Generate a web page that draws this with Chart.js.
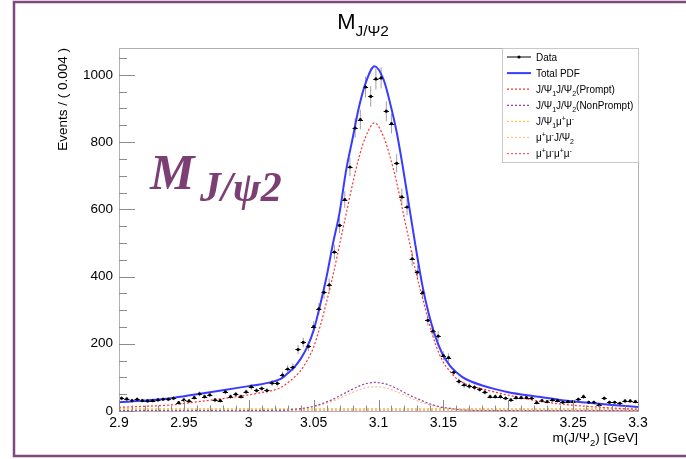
<!DOCTYPE html>
<html>
<head>
<meta charset="utf-8">
<script src="https://cdn.jsdelivr.net/npm/chart.js@4.4.1/dist/chart.umd.min.js"></script>
<style>
  html, body { margin: 0; padding: 0; background: #fff; }
  canvas { display: block; }
</style>
</head>
<body>
<canvas id="massChart" width="686" height="459"></canvas>
<script>
// binning of the data histogram
const binLow = 2.9;
const binWidth = 0.004;
const eventCounts = [
  38, 36, 31, 35, 31, 30, 31, 33, 35, 35, 38, 25, 33, 30, 40, 51, 43, 48, 33, 31,
  57, 43, 50, 43, 57, 72, 61, 67, 61, 83, 82, 107, 125, 130, 183, 204, 192, 251, 304, 353,
  375, 473, 552, 629, 726, 842, 867, 964, 936, 988, 991, 892, 855, 737, 637, 607, 453, 413, 352, 270,
  238, 223, 165, 159, 115, 88, 78, 74, 70, 64, 56, 43, 43, 43, 38, 33, 40, 40, 40, 38,
  25, 31, 28, 33, 31, 26, 28, 28, 35, 43, 26, 26, 18, 38, 26, 26, 23, 30, 30, 28
];

// fit curves
const curveX = [2.9, 2.92, 2.94, 2.96, 2.98, 3.0, 3.01, 3.02, 3.025, 3.03, 3.035, 3.04, 3.045, 3.05, 3.055,
  3.06, 3.065, 3.07, 3.075, 3.08, 3.085, 3.09, 3.097, 3.104, 3.109, 3.114, 3.119, 3.124, 3.129, 3.134,
  3.139, 3.144, 3.149, 3.155, 3.16, 3.165, 3.17, 3.18, 3.19, 3.2, 3.22, 3.24, 3.26, 3.28, 3.3];
const totalPdf = [26, 31, 38, 50, 62, 74, 80, 89, 96, 112, 130, 155, 190, 240, 315,
  400, 500, 590, 715, 810, 905, 975, 1026, 985, 915, 830, 720, 600, 480, 370,
  285, 220, 172, 135, 115, 100, 90, 76, 65, 56, 44, 33, 25, 18, 12];
const promptPdf = [11, 14, 18, 27, 37, 48, 55, 63, 70, 84, 100, 120, 150, 190, 252,
  325, 405, 495, 585, 675, 755, 815, 857, 815, 755, 680, 590, 500, 410, 335,
  262, 198, 152, 118, 97, 85, 76, 66, 56, 47, 32, 21, 14, 9, 5];
const nonPromptPdf = [1, 1, 1, 1, 1, 1, 1, 2, 2, 3, 5, 7, 10, 14, 20,
  27, 35, 45, 55, 65, 74, 81, 85, 82, 76, 67, 57, 47, 38, 30,
  22, 16, 11, 8, 5, 3, 2, 1, 1, 1, 1, 1, 1, 1, 1];
const mumuJpsiPdf = [2, 2, 2, 2, 2, 2, 2, 2, 2, 3, 4, 6, 9, 12, 17,
  23, 30, 38, 47, 55, 63, 69, 72, 70, 65, 57, 49, 40, 32, 25,
  19, 14, 10, 7, 5, 3, 2, 2, 2, 2, 2, 2, 2, 2, 2];
const flatX = [2.9, 3.3];
const jpsiMumuPdf = [7, 7];
const fourMuPdf = [3, 3];

const FONT = '"Liberation Sans", Arial, sans-serif';

function pairs(xs, ys) {
  return xs.map((x, i) => ({ x: x, y: ys[i] }));
}

// draws text with _{..} and ^{..} parts
function richParts(str) {
  const parts = [];
  const re = /([_^])\{([^}]*)\}/g;
  let last = 0, m;
  while ((m = re.exec(str)) !== null) {
    if (m.index > last) parts.push({ t: str.slice(last, m.index), mode: 'n' });
    parts.push({ t: m[2], mode: m[1] == '_' ? 'sub' : 'sup' });
    last = re.lastIndex;
  }
  if (last < str.length) parts.push({ t: str.slice(last), mode: 'n' });
  return parts;
}

function drawRich(ctx, str, x, y, size, align, color, font) {
  font = font || FONT;
  const parts = richParts(str);
  let total = 0;
  parts.forEach(p => {
    p.size = p.mode == 'n' ? size : size * 0.7;
    ctx.font = p.size + 'px ' + font;
    p.w = ctx.measureText(p.t).width;
    total += p.w;
  });
  let cx = x;
  if (align == 'center') cx = x - total / 2;
  if (align == 'right') cx = x - total;
  ctx.fillStyle = color;
  ctx.textAlign = 'left';
  ctx.textBaseline = 'alphabetic';
  parts.forEach(p => {
    ctx.font = p.size + 'px ' + font;
    let dy = 0;
    if (p.mode == 'sub') dy = size * 0.3;
    if (p.mode == 'sup') dy = -size * 0.4;
    ctx.fillText(p.t, cx, y + dy);
    cx += p.w;
  });
  return total;
}

const binCenters = eventCounts.map((n, i) => binLow + binWidth * (i + 0.5));

const decorPlugin = {
  id: 'decor',
  beforeDraw(chart) {
    const ctx = chart.ctx;
    ctx.save();
    ctx.fillStyle = '#fff';
    ctx.fillRect(0, 0, chart.width, chart.height);
    ctx.restore();
  },
  beforeDatasetsDraw(chart) {
    // error bars of the data points
    const ctx = chart.ctx;
    const xs = chart.scales.x, ys = chart.scales.y;
    const ds = chart.data.datasets[0];
    ctx.save();
    ctx.lineWidth = 1;
    ds.data.forEach(p => {
      const px = xs.getPixelForValue(p.x);
      const err = Math.sqrt(p.y);
      ctx.strokeStyle = '#a0a0a0';
      ctx.beginPath();
      ctx.moveTo(px, ys.getPixelForValue(p.y + err));
      ctx.lineTo(px, ys.getPixelForValue(Math.max(p.y - err, 0)));
      ctx.stroke();
      const py = Math.round(ys.getPixelForValue(p.y)) + 0.5;
      ctx.strokeStyle = '#000';
      ctx.beginPath();
      ctx.moveTo(xs.getPixelForValue(p.x - binWidth / 2), py);
      ctx.lineTo(xs.getPixelForValue(p.x + binWidth / 2), py);
      ctx.stroke();
    });
    ctx.restore();
  },
  afterDraw(chart) {
    const ctx = chart.ctx;
    const a = chart.chartArea;
    const xs = chart.scales.x, ys = chart.scales.y;
    ctx.save();

    // frame
    ctx.strokeStyle = '#b0b0b0';
    ctx.lineWidth = 1;
    ctx.strokeRect(a.left + 0.5, a.top + 0.5, a.right - a.left, a.bottom - a.top);

    // ticks pointing inwards
    ctx.strokeStyle = '#8c8c8c';
    ctx.beginPath();
    for (let k = 0; k <= 40; k++) {
      const px = Math.round(xs.getPixelForValue(2.9 + k * 0.01)) + 0.5;
      const len = k % 5 == 0 ? 11 : 5.5;
      ctx.moveTo(px, a.bottom);
      ctx.lineTo(px, a.bottom - len);
    }
    for (let k = 0; k <= 21; k++) {
      const py = Math.round(ys.getPixelForValue(k * 50)) + 0.5;
      const len = k % 4 == 0 ? 16 : 8;
      ctx.moveTo(a.left, py);
      ctx.lineTo(a.left + len, py);
    }
    ctx.stroke();

    // titles
    drawRich(ctx, 'M_{J/Ψ2}', 363, 29, 22, 'center', '#000');
    drawRich(ctx, 'm(J/Ψ_{2}) [GeV]', a.right, 442, 13.5, 'right', '#000');
    ctx.save();
    ctx.translate(67, a.top);
    ctx.rotate(-Math.PI / 2);
    drawRich(ctx, 'Events / ( 0.004 )', 0, 0, 13.5, 'right', '#000');
    ctx.restore();

    // legend
    const lx = 502, ly = 48, lw = a.right - lx, lh = 114;
    ctx.fillStyle = '#fff';
    ctx.fillRect(lx, ly, lw, lh);
    ctx.strokeStyle = '#c8c8c8';
    ctx.strokeRect(lx + 0.5, ly + 0.5, lw, lh);
    chart.data.datasets.forEach((ds, i) => {
      const ey = 57 + i * 16.1;
      ctx.save();
      ctx.beginPath();
      ctx.moveTo(507, ey);
      ctx.lineTo(531, ey);
      ctx.lineWidth = ds.type == 'scatter' ? 1 : ds.borderWidth;
      ctx.strokeStyle = ds.type == 'scatter' ? '#000' : ds.borderColor;
      ctx.setLineDash(ds.borderDash || []);
      ctx.stroke();
      if (ds.type == 'scatter') {
        ctx.fillStyle = '#000';
        ctx.beginPath();
        ctx.arc(519, ey, 1.6, 0, Math.PI * 2);
        ctx.fill();
      }
      ctx.restore();
      drawRich(ctx, ds.label, 536, ey + 3.5, 10, 'left', '#000');
    });

    // big annotation
    ctx.fillStyle = '#7b3f74';
    ctx.textAlign = 'left';
    ctx.font = 'bold italic 50px "Liberation Serif", serif';
    ctx.fillText('M', 150, 189);
    ctx.font = 'bold italic 42px "Liberation Serif", serif';
    ctx.fillText('J/ψ2', 200, 201);

    // purple page border
    ctx.strokeStyle = '#7e4a7e';
    ctx.lineWidth = 2.5;
    ctx.beginPath();
    ctx.moveTo(chart.width, 2);
    ctx.lineTo(14, 2);
    ctx.lineTo(14, 456);
    ctx.lineTo(chart.width, 456);
    ctx.stroke();
    ctx.restore();
  }
};

function curve(label, xs, ys, color, width, dash) {
  return {
    type: 'line',
    label: label,
    data: pairs(xs, ys),
    borderColor: color,
    borderWidth: width,
    borderDash: dash,
    pointRadius: 0,
    fill: false,
    cubicInterpolationMode: 'monotone'
  };
}

const ctx = document.getElementById('massChart').getContext('2d');
new Chart(ctx, {
  data: {
    datasets: [
      {
        type: 'scatter',
        label: 'Data',
        data: pairs(binCenters, eventCounts),
        pointRadius: 1.6,
        pointBackgroundColor: '#000',
        pointBorderWidth: 0
      },
      curve('Total PDF', curveX, totalPdf, '#3b3bff', 2, []),
      curve('J/Ψ_{1}J/Ψ_{2}(Prompt)', curveX, promptPdf, '#ff3030', 1.2, [2, 2]),
      curve('J/Ψ_{1}J/Ψ_{2}(NonPrompt)', curveX, nonPromptPdf, '#93409e', 1.2, [2, 2]),
      curve('J/Ψ_{1}μ^{+}μ^{-}', flatX, jpsiMumuPdf, '#ffc840', 1.2, [2, 2]),
      curve('μ^{+}μ^{-}J/Ψ_{2}', curveX, mumuJpsiPdf, '#ffb88c', 1.2, [2, 2]),
      curve('μ^{+}μ^{-}μ^{+}μ^{-}', flatX, fourMuPdf, '#ff5a5a', 1.2, [2, 2])
    ]
  },
  options: {
    responsive: false,
    animation: false,
    layout: { padding: { top: 48, right: 48, left: 0, bottom: 0 } },
    plugins: {
      legend: { display: false },
      title: { display: false },
      tooltip: { enabled: false }
    },
    scales: {
      x: {
        type: 'linear',
        min: 2.9,
        max: 3.3,
        afterFit: s => { s.height = 48; },
        grid: { drawOnChartArea: false, drawTicks: false },
        border: { display: false },
        ticks: {
          stepSize: 0.05,
          includeBounds: false,
          maxRotation: 0,
          padding: 4,
          color: '#000',
          font: { family: FONT, size: 14 },
          callback: v => String(parseFloat(v.toFixed(3)))
        }
      },
      y: {
        type: 'linear',
        min: 0,
        max: 1080,
        afterFit: s => { s.width = 119; },
        grid: { drawOnChartArea: false, drawTicks: false },
        border: { display: false },
        ticks: {
          stepSize: 200,
          includeBounds: false,
          padding: 6,
          color: '#000',
          font: { family: FONT, size: 13.5 },
          callback: v => String(v)
        }
      }
    }
  },
  plugins: [decorPlugin]
});
</script>
</body>
</html>
